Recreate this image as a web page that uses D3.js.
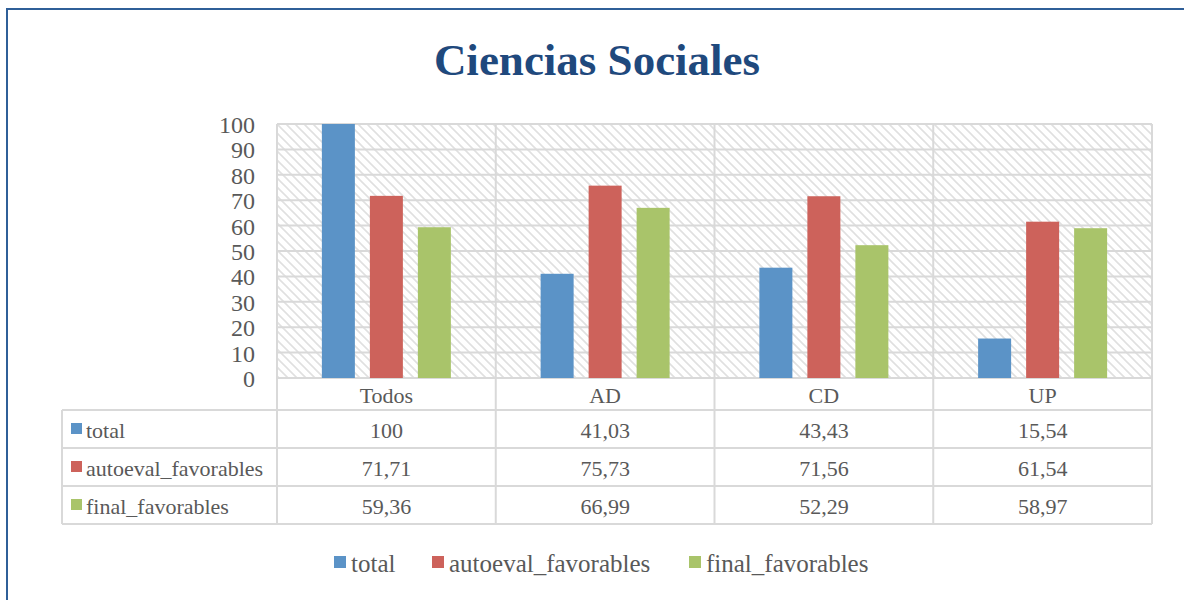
<!DOCTYPE html>
<html>
<head>
<meta charset="utf-8">
<script src="https://cdn.jsdelivr.net/npm/d3@7"></script>
<style>
  body { margin: 0; background: #fff; }
  text { font-family: "Liberation Serif", "DejaVu Serif", serif; fill: #595959; }
</style>
</head>
<body>
<div id="chart"></div>
<script>
// data
const categories = ["Todos", "AD", "CD", "UP"];
const seriesNames = ["total", "autoeval_favorables", "final_favorables"];
const total = [100, 41.03, 43.43, 15.54];
const autoeval = [71.71, 75.73, 71.56, 61.54];
const finalFav = [59.36, 66.99, 52.29, 58.97];
const tableText = [
  ["100", "41,03", "43,43", "15,54"],
  ["71,71", "75,73", "71,56", "61,54"],
  ["59,36", "66,99", "52,29", "58,97"]
];
const yTicks = [0, 10, 20, 30, 40, 50, 60, 70, 80, 90, 100];
const colors = ["#5B93C7", "#CD625B", "#A9C46A"];

const series = [total, autoeval, finalFav];

let width = 1184, height = 600;
let svg = d3.select("#chart").append("svg")
  .attr("width", width)
  .attr("height", height);

// hatch pattern for plot background
let defs = svg.append("defs");
defs.append("pattern")
  .attr("id", "hatch")
  .attr("patternUnits", "userSpaceOnUse")
  .attr("width", 9).attr("height", 9)
  .append("path")
  .attr("d", "M0,0 L9,9 M-4.5,4.5 L4.5,13.5 M4.5,-4.5 L13.5,4.5")
  .attr("stroke", "#E0E0E0")
  .attr("stroke-width", 1.6);

// outer frame
svg.append("path")
  .attr("d", "M7,600 L7,9 L1184,9")
  .attr("fill", "none")
  .attr("stroke", "#2F5F98")
  .attr("stroke-width", 2);

// title
svg.append("text")
  .attr("x", 597).attr("y", 75)
  .attr("text-anchor", "middle")
  .style("font-size", "45px")
  .style("font-weight", "bold")
  .style("fill", "#1F497D")
  .text("Ciencias Sociales");

let plotLeft = 277, plotRight = 1152, plotTop = 124, plotBottom = 378;
let tableLeft = 62;
let rowLines = [378, 410, 448, 486, 524];

let x = d3.scaleBand()
  .domain(categories)
  .range([plotLeft, plotRight]);

let y = d3.scaleLinear()
  .domain([0, 100])
  .range([plotBottom, plotTop]);

// background hatch
svg.append("rect")
  .attr("x", plotLeft).attr("y", plotTop)
  .attr("width", plotRight - plotLeft).attr("height", plotBottom - plotTop)
  .attr("fill", "url(#hatch)");

let grid = "#D9D9D9";

// horizontal gridlines
svg.selectAll(".hgrid")
  .data(yTicks)
  .enter().append("line")
  .attr("x1", plotLeft).attr("x2", plotRight)
  .attr("y1", d => y(d)).attr("y2", d => y(d))
  .attr("stroke", grid).attr("stroke-width", 2);

// y tick labels
svg.selectAll(".ylab")
  .data(yTicks)
  .enter().append("text")
  .attr("x", 255).attr("y", d => y(d) + 9)
  .attr("text-anchor", "end")
  .style("font-size", "24px")
  .text(d => d);

// vertical lines (category borders, plot + table)
let vx = categories.map(c => x(c)).concat([plotRight]);
svg.selectAll(".vgrid")
  .data(vx)
  .enter().append("line")
  .attr("x1", d => d).attr("x2", d => d)
  .attr("y1", plotTop).attr("y2", rowLines[rowLines.length - 1])
  .attr("stroke", grid).attr("stroke-width", 2);

// table left border
svg.append("line")
  .attr("x1", tableLeft).attr("x2", tableLeft)
  .attr("y1", rowLines[1]).attr("y2", rowLines[4])
  .attr("stroke", grid).attr("stroke-width", 2);

// table horizontal lines
svg.selectAll(".trow")
  .data(rowLines)
  .enter().append("line")
  .attr("x1", (d, i) => i == 0 ? plotLeft : tableLeft)
  .attr("x2", plotRight)
  .attr("y1", d => d).attr("y2", d => d)
  .attr("stroke", grid).attr("stroke-width", 2);

// bars
let barW = 33, gap = 15;
let groupW = barW * 3 + gap * 2;
series.forEach(function(vals, s) {
  svg.selectAll(".bar" + s)
    .data(vals)
    .enter().append("rect")
    .attr("x", (d, i) => x(categories[i]) + x.bandwidth() / 2 - groupW / 2 + s * (barW + gap))
    .attr("y", d => y(d))
    .attr("width", barW)
    .attr("height", d => plotBottom - y(d))
    .attr("fill", colors[s]);
});

// category labels in table header
svg.selectAll(".catlab")
  .data(categories)
  .enter().append("text")
  .attr("x", d => x(d) + x.bandwidth() / 2)
  .attr("y", 403)
  .attr("text-anchor", "middle")
  .style("font-size", "22px")
  .text(d => d);

// table rows
seriesNames.forEach(function(name, s) {
  let cy = (rowLines[s + 1] + rowLines[s + 2]) / 2;
  svg.append("rect")
    .attr("x", 71).attr("y", cy - 6)
    .attr("width", 11).attr("height", 11)
    .attr("fill", colors[s]);
  svg.append("text")
    .attr("x", 86).attr("y", cy + 9)
    .style("font-size", "22px")
    .text(name);
  svg.selectAll(".cell" + s)
    .data(tableText[s])
    .enter().append("text")
    .attr("x", (d, i) => x(categories[i]) + x.bandwidth() / 2)
    .attr("y", cy + 9)
    .attr("text-anchor", "middle")
    .style("font-size", "22px")
    .text(d => d);
});

// legend
let legX = [334, 432, 689];
seriesNames.forEach(function(name, s) {
  svg.append("rect")
    .attr("x", legX[s]).attr("y", 556)
    .attr("width", 12).attr("height", 12)
    .attr("fill", colors[s]);
  svg.append("text")
    .attr("x", legX[s] + 17).attr("y", 572)
    .style("font-size", "25px")
    .text(name);
});
</script>
</body>
</html>
